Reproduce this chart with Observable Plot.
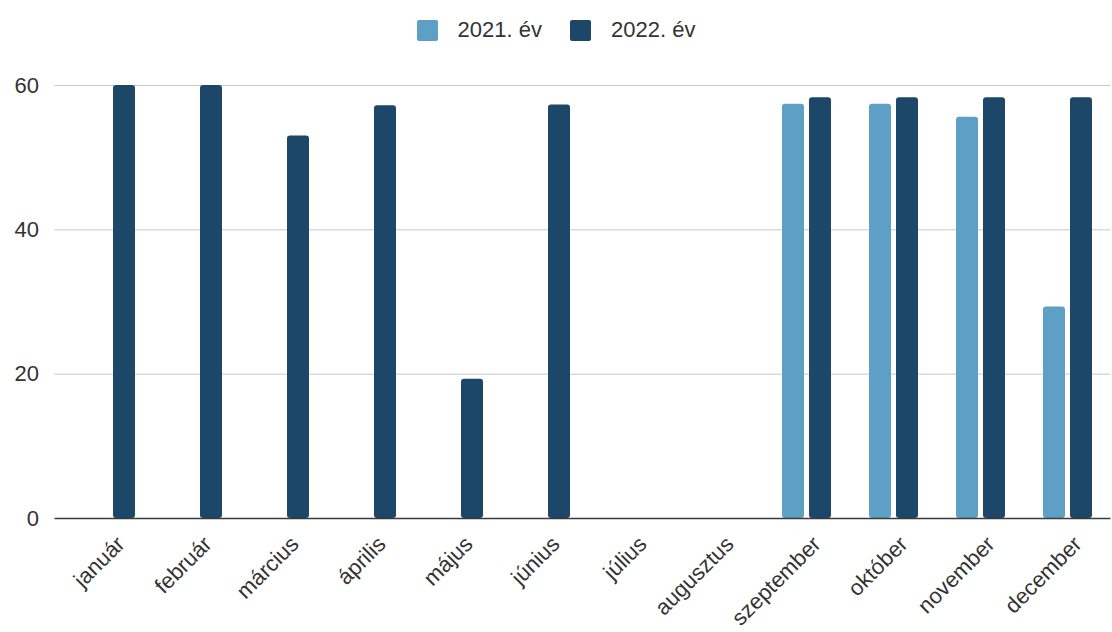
<!DOCTYPE html>
<html>
<head>
<meta charset="utf-8">
<script src="https://cdn.jsdelivr.net/npm/d3@7"></script>
<script src="https://cdn.jsdelivr.net/npm/@observablehq/plot@0.6"></script>
<style>
  html, body { margin: 0; padding: 0; background: #fff; }
  body { width: 1112px; height: 632px; overflow: hidden; font-family: "Liberation Sans", Arial, sans-serif; }
  #legend { height: 60px; display: flex; justify-content: center; align-items: center; font-size: 22px; color: #333; padding-left: 0px; box-sizing: border-box; }
  .item { display: flex; align-items: center; margin: 0 14px; }
  .sw { width: 21px; height: 21px; border-radius: 2px; margin-right: 20px; }
</style>
</head>
<body>
<div id="legend"></div>
<div id="chart"></div>
<script>
const months = ["január","február","március","április","május","június","július","augusztus","szeptember","október","november","december"];
const seriesNames = ["2021. év", "2022. év"];
const values2021 = [0, 0, 0, 0, 0, 0, 0, 0, 57.4, 57.4, 55.6, 29.3];
const values2022 = [60, 60, 53, 57.2, 19.3, 57.3, 0, 0, 58.3, 58.3, 58.3, 58.3];
const yTicks = [0, 20, 40, 60];
const colors = ["#5e9fc6", "#1c4769"];

const rows = [];
months.forEach((m, i) => {
  rows.push({month: m, series: seriesNames[0], value: values2021[i]});
  rows.push({month: m, series: seriesNames[1], value: values2022[i]});
});

const legend = document.getElementById("legend");
seriesNames.forEach((s, i) => {
  const it = document.createElement("div");
  it.className = "item";
  it.innerHTML = `<span class="sw" style="background:${colors[i]}"></span><span>${s}</span>`;
  legend.appendChild(it);
});

const barW = 22, gap = 5;
const chart = Plot.plot({
  width: 1112,
  height: 572,
  marginLeft: 66.5,
  marginRight: 1.5,
  marginTop: 25,
  marginBottom: 114,
  style: {fontFamily: "'Liberation Sans', Arial, sans-serif", background: "#fff", color: "#333"},
  x: {domain: months, padding: 0, label: null},
  y: {domain: [0, 60], label: null},
  color: {domain: seriesNames, range: colors},
  marks: [
    Plot.ruleY(yTicks.filter(d => d > 0), {stroke: "#c8c8c8", strokeWidth: 1, insetLeft: -12}),
    Plot.barY(rows.filter(d => d.series === seriesNames[0] && d.value > 0), {
      x: "month", y: "value", fill: colors[0], rx: 3,
      insetLeft: 43.5 - barW - gap / 2, insetRight: 43.5 + gap / 2
    }),
    Plot.barY(rows.filter(d => d.series === seriesNames[1] && d.value > 0), {
      x: "month", y: "value", fill: colors[1], rx: 3,
      insetLeft: 43.5 + gap / 2, insetRight: 43.5 - barW - gap / 2
    }),
    Plot.ruleY([0], {stroke: "#3a3a3a", strokeWidth: 1.5, insetLeft: -12}),
    Plot.axisY(yTicks, {tickSize: 0, tickPadding: 28, fontSize: 22, fill: "#333"}),
    Plot.axisX({tickSize: 0, tickRotate: -45, tickPadding: 22, dx: 10, fontSize: 22, fill: "#333"})
  ]
});
document.getElementById("chart").appendChild(chart);
</script>
</body>
</html>
